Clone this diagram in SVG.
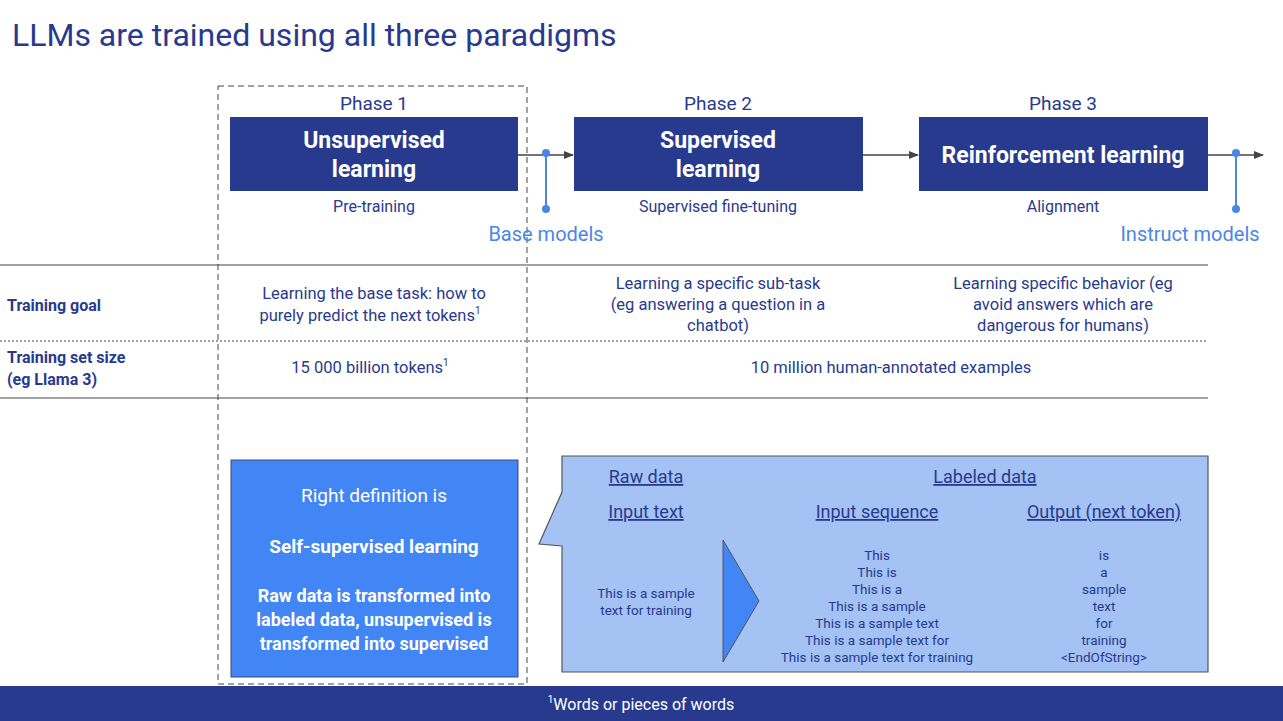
<svg xmlns="http://www.w3.org/2000/svg" width="1283" height="721" viewBox="0 0 1283 721">
<style>
text{font-family:Roboto,"Liberation Sans",sans-serif;fill:#283a8e}
.ph{font-size:19px;text-anchor:middle}
.bx{fill:#283a8e}
.bt{fill:#fff;font-size:23px;font-weight:bold;text-anchor:middle}
.sub{font-size:16px;text-anchor:middle}
.blue{fill:#4a86e8;font-size:20px;text-anchor:middle}
.lbl{font-size:16px;font-weight:bold}
.c{font-size:16.5px;text-anchor:middle}
.u{text-decoration:underline;font-size:18px;text-anchor:middle}
.s{font-size:13.5px;text-anchor:middle}
.w{fill:#fff;text-anchor:middle}
</style>
<defs><marker id="ar" markerWidth="10" markerHeight="8" refX="9" refY="4" orient="auto" markerUnits="userSpaceOnUse"><path d="M0,0L10,4L0,8z" fill="#444"/></marker></defs>
<rect width="1283" height="721" fill="#fff"/>
<text x="12" y="46" font-size="32">LLMs are trained using all three paradigms</text>
<rect x="218" y="86" width="309" height="598" fill="none" stroke="#444" stroke-dasharray="6,4"/>
<g id="connectors" stroke="#444" stroke-width="1.3" fill="none">
<line x1="518" y1="155" x2="573" y2="155" marker-end="url(#ar)"/>
<line x1="863" y1="155" x2="918" y2="155" marker-end="url(#ar)"/>
<line x1="1208" y1="155" x2="1263" y2="155" marker-end="url(#ar)"/>
<g stroke="#4a86e8" stroke-width="2"><line x1="546" y1="153" x2="546" y2="209"/><line x1="1236" y1="153" x2="1236" y2="209"/></g>
<g fill="#4a86e8" stroke="none"><circle cx="546" cy="153" r="4"/><circle cx="546" cy="209" r="4"/><circle cx="1236" cy="153" r="4"/><circle cx="1236" cy="209" r="4"/></g>
</g>
<g id="phase1"><text class="ph" x="374" y="110">Phase 1</text><rect class="bx" x="230" y="117" width="288" height="74"/><text class="bt" x="374" y="148">Unsupervised</text><text class="bt" x="374" y="177">learning</text><text class="sub" x="374" y="212">Pre-training</text></g>
<g id="phase2"><text class="ph" x="718" y="110">Phase 2</text><rect class="bx" x="574" y="117" width="289" height="74"/><text class="bt" x="718" y="148">Supervised</text><text class="bt" x="718" y="177">learning</text><text class="sub" x="718" y="212">Supervised fine-tuning</text></g>
<g id="phase3"><text class="ph" x="1063" y="110">Phase 3</text><rect class="bx" x="919" y="117" width="289" height="74"/><text class="bt" x="1063" y="163">Reinforcement learning</text><text class="sub" x="1063" y="212">Alignment</text></g>
<text class="blue" x="546" y="241">Base models</text>
<text class="blue" x="1190" y="241">Instruct models</text>
<line x1="0" y1="265" x2="1208" y2="265" stroke="#444"/>
<line x1="0" y1="341" x2="1208" y2="341" stroke="#444" stroke-dasharray="2,2"/>
<line x1="0" y1="398" x2="1208" y2="398" stroke="#444"/>
<text class="lbl" x="7" y="311">Training goal</text>
<text class="lbl" x="7" y="363">Training set size</text>
<text class="lbl" x="7" y="385">(eg Llama 3)</text>
<text class="c" x="374" y="299">Learning the base task: how to</text>
<text class="c" x="370" y="321">purely predict the next tokens<tspan font-size="10" dy="-7">1</tspan></text>
<text class="c" x="718" y="289">Learning a specific sub-task</text>
<text class="c" x="718" y="310">(eg answering a question in a</text>
<text class="c" x="718" y="331">chatbot)</text>
<text class="c" x="1063" y="289">Learning specific behavior (eg</text>
<text class="c" x="1063" y="310">avoid answers which are</text>
<text class="c" x="1063" y="331">dangerous for humans)</text>
<text class="c" x="370" y="373">15 000 billion tokens<tspan font-size="10" dy="-7">1</tspan></text>
<text class="c" x="891" y="373">10 million human-annotated examples</text>
<g id="definition"><rect x="231" y="460" width="287" height="217" fill="#4285f4" stroke="#3a4a7a"/>
<text class="w" x="374" y="502" font-size="19">Right definition is</text>
<text class="w" x="374" y="553" font-size="19" font-weight="bold">Self-supervised learning</text>
<g font-size="18" font-weight="bold"><text class="w" x="374" y="602">Raw data is transformed into</text><text class="w" x="374" y="626">labeled data, unsupervised is</text><text class="w" x="374" y="650">transformed into supervised</text></g></g>
<g id="callout"><path d="M562,456H1208V672H562V546L539,544L562,492Z" fill="#a4c2f4" stroke="#555" stroke-width="1.2"/>
<text class="u" x="646" y="483" font-size="20">Raw data</text>
<text class="u" x="985" y="483" font-size="20">Labeled data</text>
<text class="u" x="646" y="518">Input text</text>
<text class="u" x="877" y="518">Input sequence</text>
<text class="u" x="1104" y="518">Output (next token)</text>
<text class="s" x="646" y="598">This is a sample</text><text class="s" x="646" y="615">text for training</text>
<path d="M723,540L759,601L723,662Z" fill="#4285f4" stroke="#555"/>
<g class="s"><text class="s" x="877" y="560">This</text><text class="s" x="877" y="577">This is</text><text class="s" x="877" y="594">This is a</text><text class="s" x="877" y="611">This is a sample</text><text class="s" x="877" y="628">This is a sample text</text><text class="s" x="877" y="645">This is a sample text for</text><text class="s" x="877" y="662">This is a sample text for training</text></g>
<text class="s" x="1104" y="560">is</text><text class="s" x="1104" y="577">a</text><text class="s" x="1104" y="594">sample</text><text class="s" x="1104" y="611">text</text><text class="s" x="1104" y="628">for</text><text class="s" x="1104" y="645">training</text><text class="s" x="1104" y="662">&lt;EndOfString&gt;</text></g>
<rect x="0" y="686" width="1283" height="35" fill="#283a8e"/>
<text class="w" x="641" y="710" font-size="16"><tspan font-size="10" dy="-7">1</tspan><tspan dy="7">Words or pieces of words</tspan></text>
</svg>
